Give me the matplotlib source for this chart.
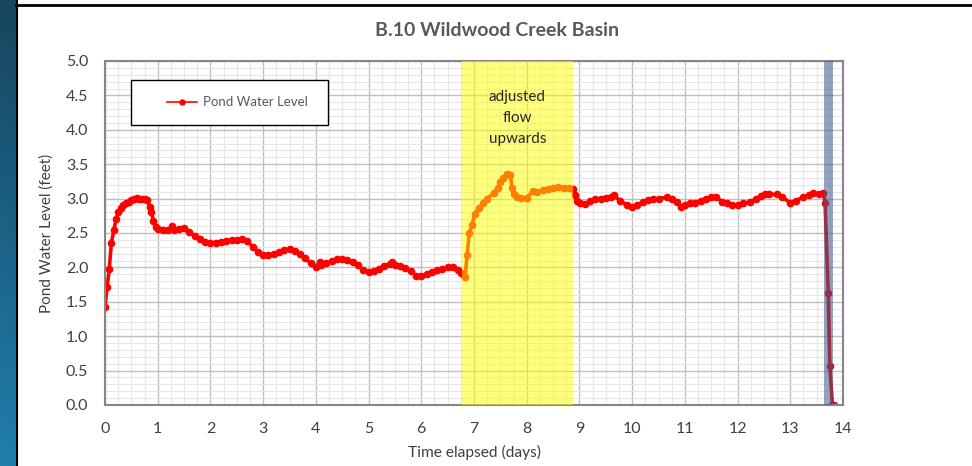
import numpy as np
import matplotlib
matplotlib.use("Agg")
import matplotlib.pyplot as plt
from matplotlib.patches import Rectangle

# Niveau d'eau (jours, pieds)
temps = [0.0, 0.04, 0.08, 0.12, 0.17, 0.21, 0.25, 0.3, 0.35, 0.4, 0.45, 0.5, 0.55, 0.6, 0.65,
         0.7, 0.75, 0.8, 0.85, 0.88, 0.92, 0.96, 1.0, 1.1, 1.2, 1.27, 1.3, 1.4, 1.5, 1.6,
         1.7, 1.8, 1.9, 2.0, 2.1, 2.2, 2.3, 2.4, 2.5, 2.6, 2.7, 2.8, 2.9, 3.0,
         3.1, 3.2, 3.3, 3.4, 3.5, 3.6, 3.7, 3.8, 3.9, 4.0, 4.08, 4.1, 4.2, 4.3, 4.4,
         4.5, 4.6, 4.7, 4.8, 4.9, 5.0, 5.1, 5.2, 5.3, 5.4, 5.45, 5.5, 5.6, 5.7, 5.8,
         5.9, 6.0, 6.1, 6.2, 6.3, 6.4, 6.5, 6.6, 6.7, 6.75, 6.83, 6.87, 6.91, 6.96,
         7.02, 7.1, 7.17, 7.25, 7.37, 7.45, 7.5, 7.55, 7.62, 7.69, 7.72, 7.76, 7.82,
         7.9, 8.0, 8.12, 8.2, 8.3, 8.4, 8.5, 8.6, 8.7, 8.8, 8.88, 8.92, 8.96, 9.01,
         9.1, 9.2, 9.3, 9.4, 9.5, 9.6, 9.65, 9.77, 9.9, 10.0, 10.1, 10.2, 10.3, 10.4,
         10.5, 10.66, 10.75, 10.85, 10.93, 11.0, 11.1, 11.2, 11.3, 11.4, 11.5, 11.6,
         11.7, 11.8, 11.9, 12.0, 12.1, 12.24, 12.35, 12.45, 12.52, 12.6, 12.75, 12.85,
         13.0, 13.1, 13.25, 13.35, 13.44, 13.55, 13.63, 13.66, 13.72, 13.75, 13.8, 13.83]
niveau = [1.43, 1.72, 1.97, 2.35, 2.55, 2.70, 2.80, 2.87, 2.91, 2.94, 2.95, 2.98, 3.00, 3.01, 3.00,
          2.99, 2.99, 2.98, 2.88, 2.80, 2.68, 2.59, 2.56, 2.54, 2.54, 2.60, 2.55, 2.56, 2.57, 2.52,
          2.46, 2.41, 2.37, 2.35, 2.35, 2.37, 2.39, 2.40, 2.40, 2.41, 2.38, 2.30, 2.23, 2.18,
          2.18, 2.20, 2.22, 2.25, 2.27, 2.24, 2.19, 2.13, 2.06, 2.01, 2.08, 2.03, 2.06, 2.09, 2.12,
          2.12, 2.11, 2.08, 2.03, 1.96, 1.94, 1.95, 1.97, 2.02, 2.05, 2.08, 2.04, 2.02, 1.99, 1.95,
          1.88, 1.87, 1.91, 1.94, 1.96, 1.97, 2.00, 2.00, 1.96, 1.92, 1.86, 2.18, 2.50, 2.62,
          2.78, 2.86, 2.94, 3.00, 3.08, 3.16, 3.24, 3.30, 3.36, 3.34, 3.15, 3.06, 3.02,
          3.01, 3.01, 3.11, 3.10, 3.12, 3.14, 3.15, 3.17, 3.16, 3.15, 3.14, 3.05, 2.96, 2.93,
          2.92, 2.96, 2.99, 3.00, 3.01, 3.02, 3.05, 2.97, 2.91, 2.88, 2.91, 2.95, 2.98, 3.00,
          3.00, 3.02, 3.00, 2.95, 2.88, 2.90, 2.93, 2.94, 2.97, 3.00, 3.02, 3.03,
          2.95, 2.93, 2.90, 2.91, 2.93, 2.95, 3.00, 3.04, 3.07, 3.06, 3.06, 3.02,
          2.94, 2.97, 3.02, 3.05, 3.08, 3.07, 3.08, 2.94, 1.63, 0.57, 0.0, 0.0]

titre = "B.10 Wildwood Creek Basin"
zone_ajustee = (6.77, 8.88)
zone_fin = (13.64, 13.81)

plt.rcParams["font.family"] = ["Lato", "DejaVu Sans"]

fig = plt.figure(figsize=(9.72, 4.66), dpi=100)

# bandeau bleu a gauche et trait noir en haut
fond = fig.add_axes([0, 0, 16 / 972, 1])
degrade = np.linspace(0, 1, 100).reshape(-1, 1)
fond.imshow(degrade, aspect="auto", cmap=matplotlib.colors.LinearSegmentedColormap.from_list(
    "bleu", ["#17465f", "#1f7fad"]), extent=[0, 1, 0, 1], origin="upper")
fond.axis("off")
fig.add_artist(plt.Line2D([16.5 / 972, 16.5 / 972], [0, 1], color="black", lw=1.5))
fig.add_artist(plt.Line2D([16 / 972, 1], [1 - 5 / 466, 1 - 5 / 466], color="black", lw=2))

ax = fig.add_axes([105 / 972, 1 - 405 / 466, 738 / 972, 344 / 466])
ax.plot(temps, niveau, "o-", color="red", lw=2.6, ms=4.5, zorder=2, label="Pond Water Level")

# zones surlignees
ax.axvspan(*zone_ajustee, color="yellow", alpha=0.5, lw=0, zorder=3)
ax.axvspan(*zone_fin, color="#3d5a8a", alpha=0.55, lw=0, zorder=3)
ax.text(sum(zone_ajustee) / 2, 4.58, "adjusted\nflow\nupwards", ha="center", va="top",
        fontsize=11, color="#262626", linespacing=1.65, zorder=4)

ax.set_xlim(0, 14)
ax.set_ylim(0, 5)
ax.set_xticks(np.arange(0, 15, 1))
ax.set_xticks(np.arange(0, 14.01, 0.25), minor=True)
ax.set_yticks(np.arange(0, 5.01, 0.5))
ax.set_yticks(np.arange(0, 5.01, 0.1), minor=True)
ax.yaxis.set_major_formatter(matplotlib.ticker.FormatStrFormatter("%.1f"))
ax.grid(which="major", color="#bfbfbf", lw=1, zorder=0)
ax.grid(which="minor", color="#e6e6e6", lw=0.8, zorder=0)
ax.set_axisbelow(True)
ax.tick_params(which="both", length=0, pad=12, labelsize=11.5, labelcolor="#404040")
for s in ax.spines.values():
    s.set_color("#868686")
    s.set_linewidth(1.5)

ax.set_xlabel("Time elapsed (days)", fontsize=11.2, color="#404040", labelpad=7)
ax.set_ylabel("Pond Water Level (feet)", fontsize=11, color="#404040", labelpad=9)
fig.text(497 / 972, 1 - 31 / 466, titre, ha="center", va="center", fontsize=14,
         fontweight="bold", color="#595959")

# legende avec cadre noir
ax.add_patch(Rectangle((0.035, 0.814), 0.267, 0.131, transform=ax.transAxes,
                       facecolor="white", edgecolor="black", lw=1, zorder=5))
leg = ax.legend(loc="center left", bbox_to_anchor=(0.075, 0.88), frameon=False,
                fontsize=9.5, handlelength=2.3, handletextpad=0.4, borderpad=0,
                markerscale=0.8)
leg.set_zorder(6)
for t in leg.get_texts():
    t.set_color("#595959")
for h in leg.get_lines():
    h.set_linewidth(1.2)

fig.savefig("out.png", dpi=100)
